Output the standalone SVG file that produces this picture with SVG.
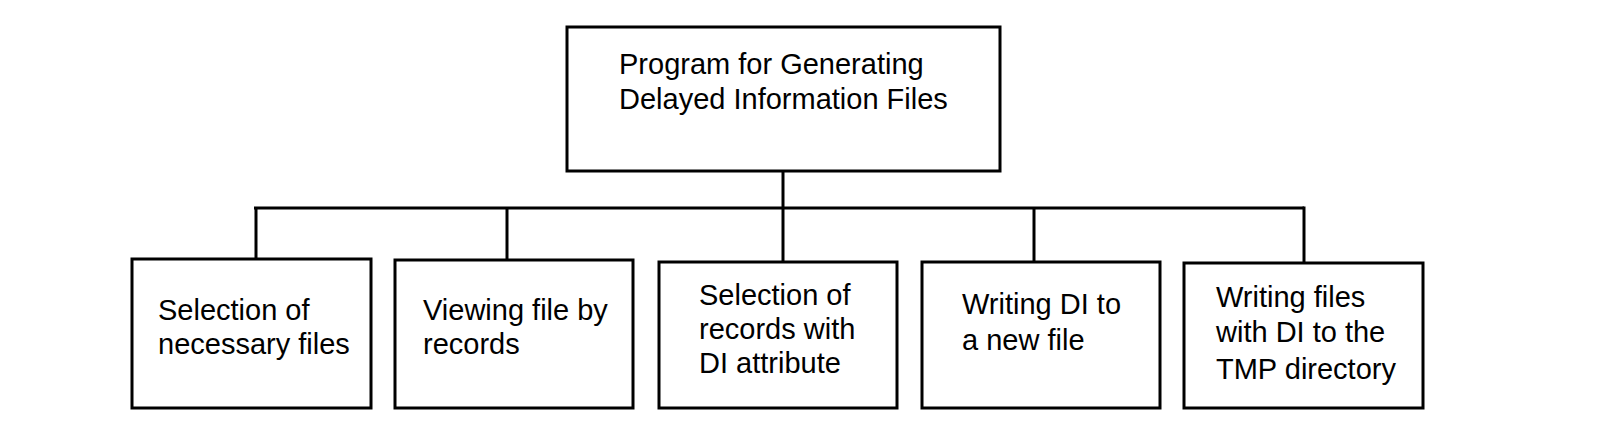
<svg xmlns="http://www.w3.org/2000/svg" width="1602" height="442" viewBox="0 0 1602 442">
<style>
rect{fill:#fff;stroke:#000;stroke-width:3}
.c line{stroke:#000;stroke-width:3}
text{font-family:"Liberation Sans",Arial,sans-serif;font-size:29px;fill:#000}
</style>
<rect x="0" y="0" width="1602" height="442" style="stroke:none"/>
<g class="c" id="connectors">
<line x1="783" y1="172" x2="783" y2="262"/>
<line x1="254" y1="208" x2="1304" y2="208"/>
<line x1="256" y1="208" x2="256" y2="259"/>
<line x1="507" y1="208" x2="507" y2="260"/>
<line x1="1034" y1="208" x2="1034" y2="262"/>
<line x1="1304" y1="206.5" x2="1304" y2="263"/>
</g>
<g id="root"><rect x="567" y="27" width="433" height="144"/>
<text x="619" y="74">Program for Generating</text><text x="619" y="109">Delayed Information Files</text></g>
<g id="n1"><rect x="132" y="259" width="239" height="149"/>
<text x="158" y="320">Selection of</text><text x="158" y="354">necessary files</text></g>
<g id="n2"><rect x="395" y="260" width="238" height="148"/>
<text x="423" y="320">Viewing file by</text><text x="423" y="354">records</text></g>
<g id="n3"><rect x="659" y="262" width="238" height="146"/>
<text x="699" y="305">Selection of</text><text x="699" y="339">records with</text><text x="699" y="373">DI attribute</text></g>
<g id="n4"><rect x="922" y="262" width="238" height="146"/>
<text x="962" y="314">Writing DI to</text><text x="962" y="350">a new file</text></g>
<g id="n5"><rect x="1184" y="263" width="239" height="145"/>
<text x="1216" y="307">Writing files</text><text x="1216" y="342">with DI to the</text><text x="1216" y="379">TMP directory</text></g>
</svg>
